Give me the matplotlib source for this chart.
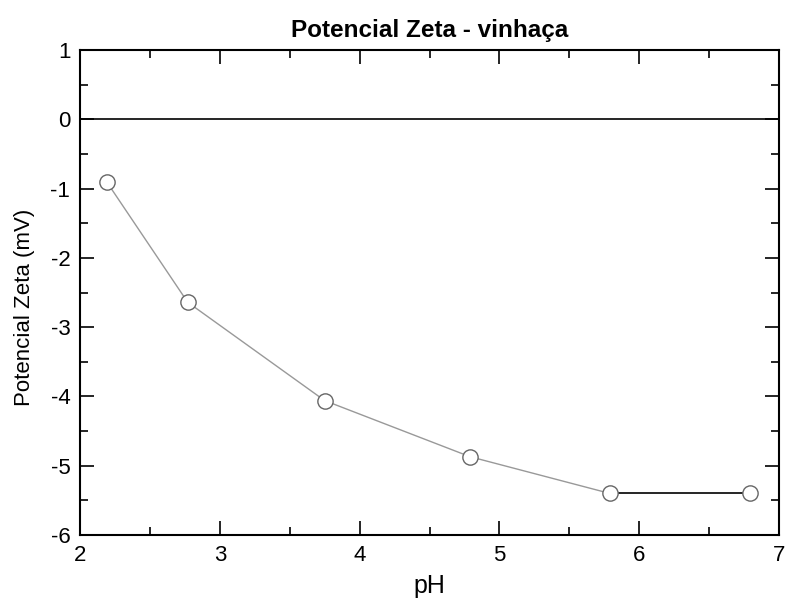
import matplotlib
matplotlib.use("Agg")
import matplotlib.pyplot as plt
from matplotlib.ticker import MultipleLocator

plt.rcParams['font.family'] = ['Liberation Sans', 'DejaVu Sans']
plt.rcParams['axes.unicode_minus'] = False

# data
ph = [2.19, 2.77, 3.75, 4.79, 5.79, 6.79]
zeta = [-0.90, -2.64, -4.06, -4.87, -5.40, -5.40]

fig = plt.figure(figsize=(7.85, 6), dpi=100)
ax = fig.add_axes([80 / 785, 1 - 535 / 600, 699 / 785, 485 / 600])

ax.axhline(0, color="black", lw=1.2, zorder=1)
# gray segments, then the last one in black
ax.plot(ph[:5], zeta[:5], color="#999999", lw=1.0, zorder=2)
ax.plot(ph[4:], zeta[4:], color="black", lw=1.2, zorder=2)
ax.plot(ph, zeta, ls="none", marker="o", ms=11, mfc="white", mec="#666666", mew=1.0, zorder=3)

ax.set_xlim(2, 7)
ax.set_ylim(-6, 1)
ax.xaxis.set_major_locator(MultipleLocator(1))
ax.xaxis.set_minor_locator(MultipleLocator(0.5))
ax.yaxis.set_major_locator(MultipleLocator(1))
ax.yaxis.set_minor_locator(MultipleLocator(0.5))
ax.tick_params(which="both", direction="in", top=True, right=True, width=1.2, labelsize=16)
ax.tick_params(axis="x", pad=7)
ax.tick_params(axis="y", pad=7)
ax.tick_params(which="major", length=10)
ax.tick_params(which="minor", length=6)
for s in ax.spines.values():
    s.set_linewidth(1.5)

ax.set_title("Potencial Zeta - vinhaça", fontsize=17.5, fontweight="bold", pad=9)
ax.set_xlabel("pH", fontsize=18, labelpad=6)
ax.set_ylabel("Potencial Zeta (mV)", fontsize=16)
ax.yaxis.set_label_coords(-0.064, 0.469)

fig.savefig("out.png", dpi=100)
